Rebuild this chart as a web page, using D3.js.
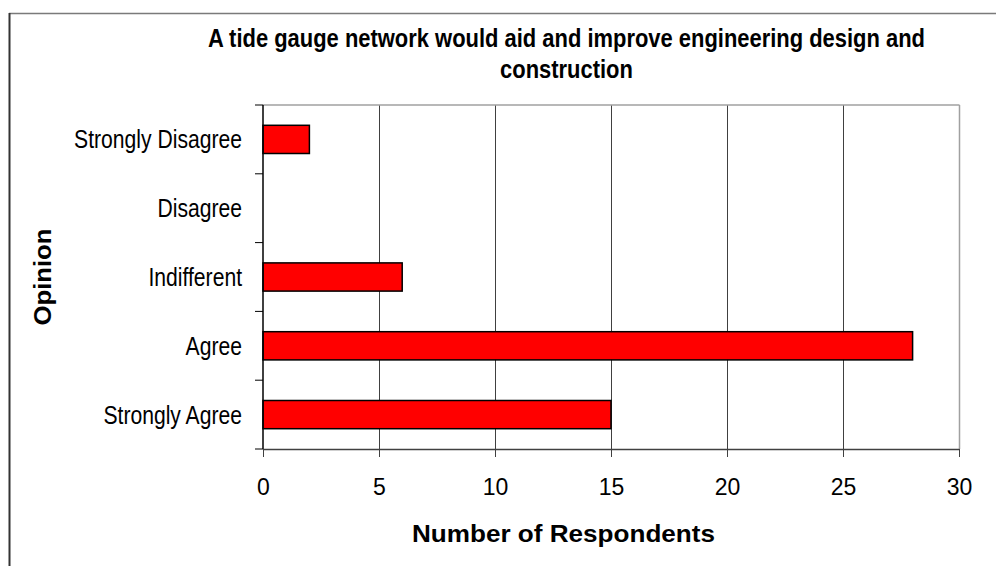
<!DOCTYPE html>
<html>
<head>
<meta charset="utf-8">
<script src="https://cdn.jsdelivr.net/npm/d3@7"></script>
<style>
  html, body { margin: 0; padding: 0; background: #fff; }
  svg { display: block; }
  text { font-family: "Liberation Sans", Arial, sans-serif; fill: #000; }
</style>
</head>
<body>
<svg id="chart" width="996" height="566"></svg>
<script>
// Survey responses
const categories = ["Strongly Disagree", "Disagree", "Indifferent", "Agree", "Strongly Agree"];
const respondents = [2, 0, 6, 28, 15];
const xTicks = [0, 5, 10, 15, 20, 25, 30];
const titleLines = ["A tide gauge network would aid and improve engineering design and", "construction"];
const xTitle = "Number of Respondents";
const yTitle = "Opinion";

const svg = d3.select("#chart");
const W = 996, H = 566;
const plot = { left: 263, right: 959, top: 105, bottom: 449 };

// Outer chart frame (continues past the right and bottom edges)
svg.append("line").attr("x1", 9).attr("x2", W).attr("y1", 13.5).attr("y2", 13.5)
  .attr("stroke", "#7a7a7a").attr("stroke-width", 1.5);
svg.append("line").attr("x1", 9.5).attr("x2", 9.5).attr("y1", 13).attr("y2", H)
  .attr("stroke", "#333").attr("stroke-width", 2);

const x = d3.scaleLinear().domain([0, 30]).range([plot.left, plot.right]);
const y = d3.scaleBand().domain(categories).range([plot.top, plot.bottom]).padding(0);
const barH = y.bandwidth() * 0.41;

// Vertical gridlines
svg.append("g").selectAll("line").data(xTicks.filter(d => d > 0 && d < 30)).join("line")
  .attr("x1", d => x(d) + 0.5).attr("x2", d => x(d) + 0.5)
  .attr("y1", plot.top).attr("y2", plot.bottom)
  .attr("stroke", "#404040").attr("stroke-width", 1);

// Plot area top and right edges
svg.append("line").attr("x1", plot.left).attr("x2", plot.right + 0.5)
  .attr("y1", plot.top).attr("y2", plot.top).attr("stroke", "#a0a0a0").attr("stroke-width", 1.5);
svg.append("line").attr("x1", plot.right + 0.5).attr("x2", plot.right + 0.5)
  .attr("y1", plot.top).attr("y2", plot.bottom).attr("stroke", "#a0a0a0").attr("stroke-width", 1.5);

// Bars
svg.append("g").selectAll("rect").data(categories.map((c, i) => ({ c, v: respondents[i] })).filter(d => d.v > 0))
  .join("rect")
  .attr("x", x(0))
  .attr("y", d => y(d.c) + (y.bandwidth() - barH) / 2)
  .attr("width", d => x(d.v) - x(0))
  .attr("height", barH)
  .attr("fill", "#ff0000")
  .attr("stroke", "#000")
  .attr("stroke-width", 1.5);

// X axis
const xAxis = svg.append("g").attr("transform", `translate(0,${plot.bottom})`)
  .call(d3.axisBottom(x).tickValues(xTicks).tickSize(8).tickSizeOuter(0));
xAxis.select(".domain").attr("stroke", "#404040").attr("stroke-width", 1.5);
xAxis.selectAll(".tick line").attr("stroke", "#404040").attr("stroke-width", 1);
xAxis.selectAll(".tick text").attr("y", 46).attr("dy", 0)
  .style("font-size", "23px").attr("fill", "#000");

// Y axis: labels at band centres, ticks at band boundaries
const yAxis = svg.append("g").attr("transform", `translate(${plot.left},0)`)
  .call(d3.axisLeft(y).tickSize(0).tickPadding(21));
yAxis.select(".domain").remove();
yAxis.selectAll(".tick text").attr("dy", "0.36em").style("font-size", "25px").attr("fill", "#000")
  .each(function () {
    const t = d3.select(this);
    t.attr("textLength", this.getComputedTextLength() * 0.845).attr("lengthAdjust", "spacingAndGlyphs");
  });
const bounds = categories.map(c => y(c)).concat([plot.bottom]);
svg.append("g").selectAll("line").data(bounds).join("line")
  .attr("x1", plot.left - 8).attr("x2", plot.left)
  .attr("y1", d => d).attr("y2", d => d)
  .attr("stroke", "#000").attr("stroke-width", 1);
svg.append("line").attr("x1", plot.left).attr("x2", plot.left)
  .attr("y1", plot.top).attr("y2", plot.bottom).attr("stroke", "#000").attr("stroke-width", 1.5);

// Chart title
const titleCx = 566.5;
const titleSel = svg.append("g").selectAll("text").data(titleLines).join("text")
  .attr("x", titleCx).attr("y", (d, i) => 47 + i * 31)
  .attr("text-anchor", "middle")
  .style("font-size", "25px").style("font-weight", "bold")
  .text(d => d);
const titleScale = 717 / titleSel.nodes()[0].getComputedTextLength();
titleSel.each(function () {
  d3.select(this).attr("textLength", this.getComputedTextLength() * titleScale)
    .attr("lengthAdjust", "spacingAndGlyphs");
});

// Axis titles
const xt = svg.append("text").attr("x", 563.5).attr("y", 541.5).attr("text-anchor", "middle")
  .style("font-size", "24px").style("font-weight", "bold").text(xTitle);
xt.attr("textLength", 303).attr("lengthAdjust", "spacingAndGlyphs");

const yt = svg.append("text").attr("transform", `translate(51,${(plot.top + plot.bottom) / 2}) rotate(-90)`)
  .attr("text-anchor", "middle")
  .style("font-size", "24px").style("font-weight", "bold").text(yTitle);
yt.attr("textLength", 97).attr("lengthAdjust", "spacingAndGlyphs");
</script>
</body>
</html>
